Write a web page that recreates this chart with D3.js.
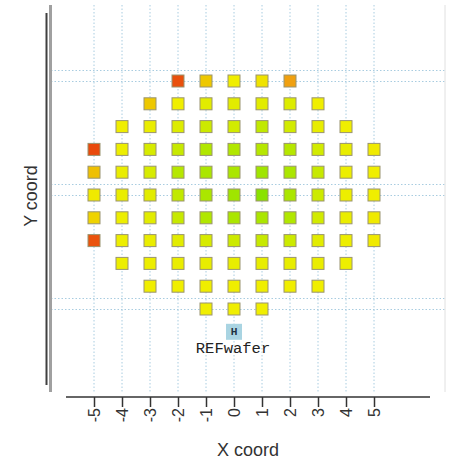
<!DOCTYPE html>
<html>
<head>
<meta charset="utf-8">
<script src="https://cdn.jsdelivr.net/npm/d3@7"></script>
<style>
  html, body { margin: 0; padding: 0; background: #fff; }
  svg { display: block; }
</style>
</head>
<body>
<svg id="chart" width="452" height="460"></svg>
<script>
// ---- data ----
const xTicks = [-5, -4, -3, -2, -1, 0, 1, 2, 3, 4, 5];
const rowY = [5, 4, 3, 2, 1, 0, -1, -2, -3, -4, -5];
const rowStartX = [-2, -3, -4, -5, -5, -5, -5, -5, -4, -3, -1];
const rowValues = [
  [5, 45, 55, 52, 30],
  [45, 55, 60, 60, 60, 62, 55],
  [55, 57, 62, 68, 66, 72, 66, 58, 55],
  [3, 56, 64, 70, 78, 78, 76, 76, 66, 58, 54],
  [42, 57, 64, 76, 80, 80, 84, 80, 70, 56, 55],
  [54, 57, 60, 72, 80, 84, 92, 80, 68, 56, 55],
  [48, 56, 60, 70, 78, 80, 80, 78, 66, 57, 54],
  [6, 56, 57, 60, 64, 68, 70, 68, 60, 56, 54],
  [56, 56, 57, 58, 58, 58, 58, 57, 56],
  [55, 55, 55, 55, 55, 55, 55],
  [55, 55, 55]
];
const gridY = [5.5, 5, 0.5, 0, -4.5, -5];
const refDie = { x: 0, y: -6, label: "REFwafer", mark: "H" };
const xTitle = "X coord";
const yTitle = "Y coord";

// ---- build ----
const dies = [];
rowY.forEach((y, i) => {
  rowValues[i].forEach((v, j) => dies.push({ x: rowStartX[i] + j, y: y, v: v }));
});

const svg = d3.select("#chart");
const x = d3.scaleLinear().domain([-5, 5]).range([94, 374]);
const y = d3.scaleLinear().domain([5, -5]).range([81, 309]);
const color = d3.scaleLinear()
  .domain([0, 30, 45, 55, 100])
  .range(["#e8400c", "#f0a010", "#eec800", "#f0ee00", "#74e000"])
  .clamp(true);

const plotL = 51, plotR = 445, plotT = 5, plotB = 392;

// vertical grid
svg.append("g").selectAll("line").data(xTicks).join("line")
  .attr("x1", d => x(d)).attr("x2", d => x(d))
  .attr("y1", plotT).attr("y2", plotB)
  .attr("stroke", "#a8cce0").attr("stroke-width", 1)
  .attr("stroke-dasharray", "1.5,2");

// horizontal grid
svg.append("g").selectAll("line").data(gridY).join("line")
  .attr("x1", plotL).attr("x2", plotR)
  .attr("y1", d => Math.round(y(d)) + 0.5).attr("y2", d => Math.round(y(d)) + 0.5)
  .attr("stroke", "#a8cce0").attr("stroke-width", 1)
  .attr("stroke-dasharray", "1.5,2");

// plot frame
svg.append("line").attr("x1", 50.5).attr("x2", 50.5).attr("y1", plotT).attr("y2", plotB)
  .attr("stroke", "#a0a0a0").attr("stroke-width", 3);
svg.append("line").attr("x1", plotR).attr("x2", plotR).attr("y1", plotT).attr("y2", plotB)
  .attr("stroke", "#e0e0e0").attr("stroke-width", 1);

// y axis line (no ticks)
svg.append("line").attr("x1", 46.5).attr("x2", 46.5).attr("y1", 13).attr("y2", 385)
  .attr("stroke", "#404040").attr("stroke-width", 2);

// dies
svg.append("g").selectAll("rect").data(dies).join("rect")
  .attr("x", d => x(d.x) - 6).attr("y", d => y(d.y) - 6)
  .attr("width", 12).attr("height", 12)
  .attr("fill", d => color(d.v))
  .attr("stroke", "#9a9470").attr("stroke-width", 1);

// reference die
svg.append("rect")
  .attr("x", x(refDie.x) - 8).attr("y", y(refDie.y) - 8)
  .attr("width", 16).attr("height", 16)
  .attr("fill", "#a9d4e2");
svg.append("text")
  .attr("x", x(refDie.x)).attr("y", y(refDie.y) + 3)
  .attr("text-anchor", "middle")
  .attr("font-family", "DejaVu Sans, sans-serif").attr("font-size", 8).attr("font-weight", "bold")
  .attr("fill", "#203040")
  .text(refDie.mark);
svg.append("text")
  .attr("x", x(refDie.x) - 1).attr("y", y(refDie.y) + 21)
  .attr("text-anchor", "middle")
  .attr("font-family", "'Courier New', 'Liberation Mono', monospace").attr("font-size", 15.5)
  .attr("fill", "#222")
  .text(refDie.label);

// x axis
const xAxis = d3.axisBottom(x).tickValues(xTicks).tickSize(10).tickSizeOuter(0).tickFormat(d3.format("d"));
const gx = svg.append("g").attr("transform", "translate(0,397)").call(xAxis);
gx.select(".domain").remove();
gx.append("line").attr("x1", 66).attr("x2", 430).attr("y1", 0).attr("y2", 0)
  .attr("stroke", "#333").attr("stroke-width", 1.5);
gx.selectAll(".tick line").attr("stroke", "#333").attr("stroke-width", 1.5);
gx.selectAll(".tick text")
  .attr("font-family", "'Liberation Sans', Arial, sans-serif").attr("font-size", 16)
  .attr("fill", "#333")
  .attr("transform", "rotate(-90)")
  .attr("text-anchor", "end")
  .attr("x", -11).attr("y", 0).attr("dy", "0.35em")
  .text(d => d3.format("d")(d).replace("\u2212", "-"));

// titles
svg.append("text")
  .attr("x", 248).attr("y", 456)
  .attr("text-anchor", "middle")
  .attr("font-family", "'Liberation Sans', Arial, sans-serif").attr("font-size", 18)
  .attr("fill", "#333")
  .text(xTitle);
svg.append("text")
  .attr("transform", "translate(37,196) rotate(-90)")
  .attr("text-anchor", "middle")
  .attr("font-family", "'Liberation Sans', Arial, sans-serif").attr("font-size", 18)
  .attr("fill", "#333")
  .text(yTitle);
</script>
</body>
</html>
